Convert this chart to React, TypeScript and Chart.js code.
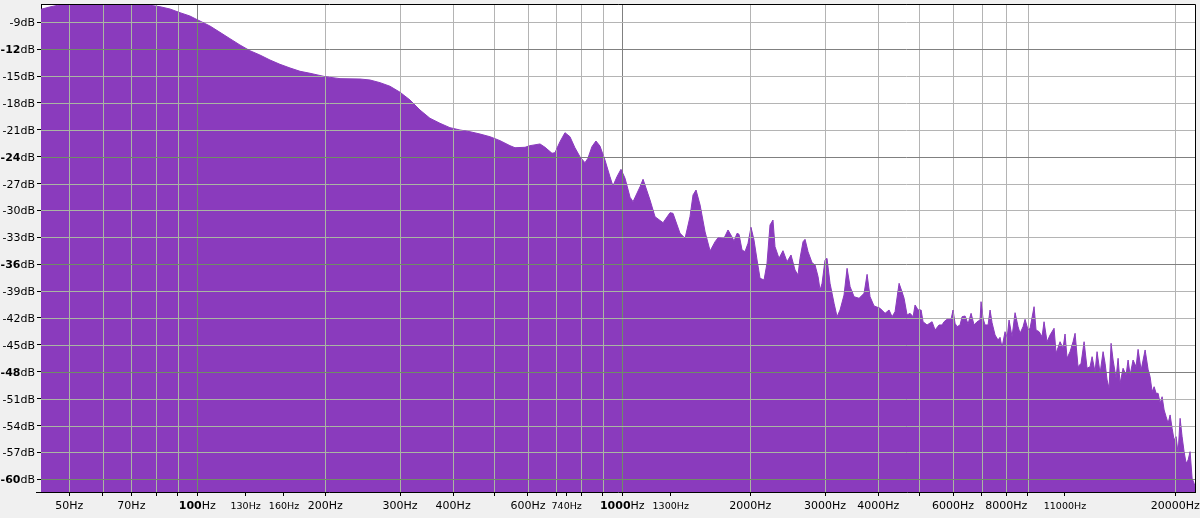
import { useEffect, useRef } from 'react';
import { Chart, registerables } from 'chart.js';

Chart.register(...registerables);

// Spectrum samples: frequency (Hz) and level (dB)
const freqHz = [
  42.9, 45, 47, 48, 51.6, 59, 67.6, 75.3, 77.4, 81.7, 86.3, 91.1, 96.1, 100, 107.1, 113.1, 119.4, 126, 133, 140.4,
  148.3, 156.5, 165.3, 174.5, 184.2, 200, 216.7, 241.5, 254.9, 269.2, 284.1, 300, 316.6, 334.2, 352.7, 372.4, 393.1,
  415, 438.2, 462.6, 488.3, 515.6, 544.2, 559.2, 590.4, 606.6, 640.4, 657.9, 683.3, 694.4, 713.5, 733.1, 753.1, 773.7,
  795, 816.8, 830.2, 848.3, 867, 886, 910.4, 935.4, 950.6, 971.6, 992.9, 1015, 1043, 1060, 1101, 1119, 1162, 1194,
  1247, 1295, 1316, 1367, 1405, 1443, 1467, 1491, 1524, 1566, 1609, 1653, 1680, 1735, 1773, 1792, 1832, 1862, 1882,
  1913, 1944, 1976, 2008, 2041, 2075, 2109, 2155, 2190, 2226, 2262, 2287, 2337, 2388, 2441, 2494, 2549, 2591, 2619,
  2662, 2691, 2735, 2795, 2841, 2888, 2919, 2951, 2999, 3031, 3081, 3149, 3201, 3253, 3324, 3379, 3435, 3510, 3606,
  3705, 3766, 3827, 3911, 4041, 4152, 4242, 4312, 4382, 4479, 4552, 4602, 4677, 4753, 4832, 4884, 4965, 5046, 5100,
  5212, 5355, 5443, 5562, 5652, 5714, 5808, 5935, 6000, 6065, 6131, 6232, 6300, 6404, 6508, 6615, 6723, 6833, 6945,
  6982, 7058, 7135, 7253, 7332, 7411, 7532, 7656, 7739, 7823, 7952, 8039, 8126, 8258, 8395, 8533, 8626, 8766, 8862,
  9008, 9106, 9305, 9406, 9561, 9717, 9822, 9984, 10148, 10370, 10483, 10712, 10887, 11005, 11126, 11307, 11494,
  11619, 11808, 12003, 12201, 12399, 12604, 12741, 12948, 13089, 13305, 13524, 13671, 13820, 13970, 14122, 14276,
  14508, 14669, 14828, 15070, 15318, 15485, 15654, 15909, 16171, 16347, 16617, 16798, 16981, 17257, 17445, 17639,
  17831, 18025, 18221, 18419, 18620, 18822, 19027, 19234, 19443, 19655, 19869, 20085, 20303, 20524, 20748, 20973,
  21204, 21435, 21668, 21904, 22142, 22250,
];

const levelDb = [
  -7.55, -7.29, -7.1, -7.0, -6.7, -6.5, -6.6, -6.9, -7.1, -7.26, -7.52, -7.93, -8.3, -8.71, -9.41, -10.12, -10.83, -11.53, -12.17, -12.65,
  -13.21, -13.69, -14.1, -14.47, -14.69, -15.07, -15.29, -15.33, -15.44, -15.74, -16.14, -16.81, -17.67, -18.79, -19.71, -20.27, -20.76,
  -21.02, -21.21, -21.47, -21.77, -22.21, -22.77, -23.0, -22.95, -22.77, -22.58, -22.95, -23.62, -23.55, -22.33, -21.32, -21.77, -23.0,
  -24.0, -24.67, -24.18, -22.88, -22.25, -22.81, -24.37, -26.23, -27.27, -26.23, -25.41, -26.41, -28.53, -29.02, -27.35, -26.52, -28.83, -30.7,
  -31.37, -30.25, -30.32, -32.55, -33.11, -30.7, -28.27, -27.72, -29.39, -32.4, -34.52, -33.49, -33.04, -33.11, -32.18, -32.55, -33.41, -32.55, -32.66,
  -34.41, -34.6, -33.67, -31.88, -33.3, -35.53, -37.57, -37.76, -35.9, -31.62, -31.07, -34.04, -35.34, -34.49, -35.72, -34.97, -36.65, -37.2, -35.34,
  -33.49, -33.22, -34.6, -35.83, -36.09, -37.39, -38.88, -38.13, -35.53, -35.34, -38.13, -40.36, -41.86, -41.11, -39.44, -36.46, -38.51, -39.63, -39.8,
  -39.25, -37.13, -39.63, -40.66, -40.92, -41.48, -41.11, -41.86, -41.3, -38.13, -39.1, -39.8, -41.67, -41.48, -41.86, -40.55, -41.11, -41.11, -42.42,
  -42.78, -42.42, -43.34, -42.78, -42.78, -42.42, -42.15, -42.15, -41.11, -42.6, -42.97, -42.78, -41.86, -41.78, -42.67, -41.48, -42.78, -42.42, -42.23,
  -40.18, -42.04, -42.78, -42.78, -41.11, -42.53, -43.9, -44.46, -44.16, -45.27, -43.53, -44.27, -42.23, -44.09, -41.41, -42.97, -43.71, -42.97, -42.15,
  -43.34, -43.15, -40.74, -43.34, -43.53, -44.09, -42.42, -44.65, -43.9, -43.15, -45.94, -44.65, -45.38, -43.79, -46.5, -45.76, -44.65,
  -43.71, -47.44, -47.06, -44.65, -47.61, -47.44, -46.32, -48.0, -45.76, -48.17, -45.76, -47.06, -48.92, -49.85, -44.83, -46.69,
  -48.73, -46.5, -49.29, -47.61, -48.36, -46.69, -48.36, -46.69, -47.44, -45.5, -47.81, -46.69, -45.57, -47.73, -48.55, -50.23,
  -49.67, -50.41, -50.41, -51.52, -50.79, -52.27, -53.02, -53.75, -52.82, -54.31, -55.62, -55.25, -57.1, -53.2, -55.25, -56.92,
  -58.22, -57.85, -56.92, -59.89, -60.45, -60.8,
];

const dbTicks = [-9, -12, -15, -18, -21, -24, -27, -30, -33, -36, -39, -42, -45, -48, -51, -54, -57, -60];
const dbBold = [-12, -24, -36, -48, -60];

const freqGrid = [50, 60, 70, 80, 90, 100, 200, 300, 400, 500, 600, 700, 800, 900, 1000,
  2000, 3000, 4000, 5000, 6000, 7000, 8000, 9000, 20000];
const freqMajor = [100, 1000];
const freqLabels = [50, 70, 100, 130, 160, 200, 300, 400, 600, 740, 1000, 1300, 2000, 3000, 4000, 6000, 8000, 11000, 20000];
const freqSmallLabels = [130, 160, 740, 1300, 11000];
const freqBoldLabels = [100, 1000];

const FILL = '#8a3bbd';
const FONT = '"DejaVu Sans", sans-serif';

export default function App() {
  const ref = useRef<HTMLCanvasElement | null>(null);

  useEffect(() => {
    document.body.style.margin = '0';
    const canvas = ref.current;
    if (!canvas) return;

    const tickValues = Array.from(new Set([...freqGrid, ...freqLabels])).sort((a, b) => a - b);

    const drawGrid = (chart: any, inside: boolean) => {
      const { ctx, chartArea: a } = chart;
      const xs = chart.scales.x;
      const ys = chart.scales.y;
      ctx.save();
      ctx.lineWidth = 1;
      freqGrid.forEach((f) => {
        const major = freqMajor.includes(f);
        ctx.strokeStyle = inside ? (major ? '#6f8c66' : '#a9b6a2') : (major ? '#808080' : '#b4b4b4');
        const px = Math.round(xs.getPixelForValue(f)) + 0.5;
        ctx.beginPath();
        ctx.moveTo(px, a.top);
        ctx.lineTo(px, a.bottom);
        ctx.stroke();
      });
      dbTicks.forEach((v) => {
        const major = dbBold.includes(v);
        ctx.strokeStyle = inside ? (major ? '#6f8c66' : '#a9b6a2') : (major ? '#808080' : '#b4b4b4');
        const py = Math.round(ys.getPixelForValue(v)) + 0.5;
        ctx.beginPath();
        ctx.moveTo(a.left, py);
        ctx.lineTo(a.right, py);
        ctx.stroke();
      });
      ctx.restore();
    };

    const plugin = {
      id: 'spectrumDecor',
      beforeDraw(chart: any) {
        const { ctx, chartArea: a } = chart;
        ctx.save();
        ctx.fillStyle = '#f0f0f0';
        ctx.fillRect(0, 0, chart.width, chart.height);
        ctx.fillStyle = '#ffffff';
        ctx.fillRect(a.left, a.top, a.right - a.left, a.bottom - a.top);
        ctx.restore();
      },
      beforeDatasetsDraw(chart: any) {
        drawGrid(chart, false);
      },
      afterDatasetsDraw(chart: any) {
        const { ctx, chartArea: a } = chart;
        const pts = chart.getDatasetMeta(0).data;
        ctx.save();
        ctx.beginPath();
        ctx.rect(a.left, a.top, a.right - a.left, a.bottom - a.top);
        ctx.clip();
        ctx.beginPath();
        ctx.moveTo(pts[0].x, a.bottom);
        pts.forEach((p: any) => ctx.lineTo(p.x, p.y));
        ctx.lineTo(pts[pts.length - 1].x, a.bottom);
        ctx.closePath();
        ctx.clip();
        drawGrid(chart, true);
        ctx.restore();

        // frame: top and right edges
        ctx.save();
        ctx.strokeStyle = '#000';
        ctx.lineWidth = 1;
        ctx.beginPath();
        ctx.moveTo(a.left, a.top + 0.5);
        ctx.lineTo(a.right + 0.5, a.top + 0.5);
        ctx.lineTo(a.right + 0.5, a.bottom);
        ctx.stroke();
        ctx.beginPath();
        ctx.moveTo(a.left - 5, a.bottom + 0.5);
        ctx.lineTo(a.left, a.bottom + 0.5);
        ctx.stroke();
        ctx.restore();
      },
      afterDraw(chart: any) {
        const { ctx } = chart;
        const xs = chart.scales.x;
        const ys = chart.scales.y;
        ctx.save();
        ctx.fillStyle = '#000';
        ctx.textBaseline = 'alphabetic';
        ctx.textAlign = 'left';
        // y labels
        dbTicks.forEach((v) => {
          const bold = dbBold.includes(v);
          const num = String(v);
          const unit = 'dB';
          ctx.font = `11px ${FONT}`;
          const wu = ctx.measureText(unit).width;
          ctx.font = `${bold ? 'bold ' : ''}11px ${FONT}`;
          const wn = ctx.measureText(num).width;
          const right = 35;
          const py = ys.getPixelForValue(v) + 4;
          ctx.fillText(num, right - wu - wn, py);
          ctx.font = `11px ${FONT}`;
          ctx.fillText(unit, right - wu, py);
        });
        // x labels
        freqLabels.forEach((f) => {
          const size = freqSmallLabels.includes(f) ? 9.5 : 11;
          const bold = freqBoldLabels.includes(f);
          const num = String(f);
          const unit = 'Hz';
          ctx.font = `${bold ? 'bold ' : ''}${size}px ${FONT}`;
          const wn = ctx.measureText(num).width;
          ctx.font = `${size}px ${FONT}`;
          const wu = ctx.measureText(unit).width;
          const px = xs.getPixelForValue(f);
          const start = px - (wn + wu) / 2;
          const py = 509;
          ctx.font = `${bold ? 'bold ' : ''}${size}px ${FONT}`;
          ctx.fillText(num, start, py);
          ctx.font = `${size}px ${FONT}`;
          ctx.fillText(unit, start + wn, py);
        });
        ctx.restore();
      },
    };

    const chart = new Chart(canvas, {
      type: 'line',
      data: {
        datasets: [
          {
            data: freqHz.map((f, i) => ({ x: f, y: levelDb[i] })),
            borderColor: FILL,
            backgroundColor: FILL,
            borderWidth: 1,
            pointRadius: 0,
            tension: 0,
            fill: 'start',
          },
        ],
      },
      options: {
        responsive: false,
        animation: false,
        events: [],
        layout: { padding: { top: 4, right: 5, left: 0, bottom: 0 } },
        plugins: { legend: { display: false }, tooltip: { enabled: false } },
        scales: {
          x: {
            type: 'logarithmic',
            min: 42.9,
            max: 22250,
            afterBuildTicks: (s: any) => {
              s.ticks = tickValues.map((v) => ({ value: v }));
            },
            afterFit: (s: any) => {
              s.height = 26;
            },
            ticks: { display: false },
            grid: { drawOnChartArea: false, drawTicks: true, tickLength: 4, tickColor: '#000' },
            border: { display: true, color: '#000', width: 1 },
          },
          y: {
            type: 'linear',
            min: -61.42,
            max: -6.96,
            afterBuildTicks: (s: any) => {
              s.ticks = dbTicks.map((v) => ({ value: v }));
            },
            afterFit: (s: any) => {
              s.width = 41;
            },
            ticks: { display: false },
            grid: { drawOnChartArea: false, drawTicks: true, tickLength: 4, tickColor: '#000' },
            border: { display: true, color: '#000', width: 1 },
          },
        },
      },
      plugins: [plugin],
    });

    return () => chart.destroy();
  }, []);

  return (
    <div style={{ width: 1200, height: 518, background: '#f0f0f0' }}>
      <canvas ref={ref} width={1200} height={518} style={{ display: 'block' }} />
    </div>
  );
}
